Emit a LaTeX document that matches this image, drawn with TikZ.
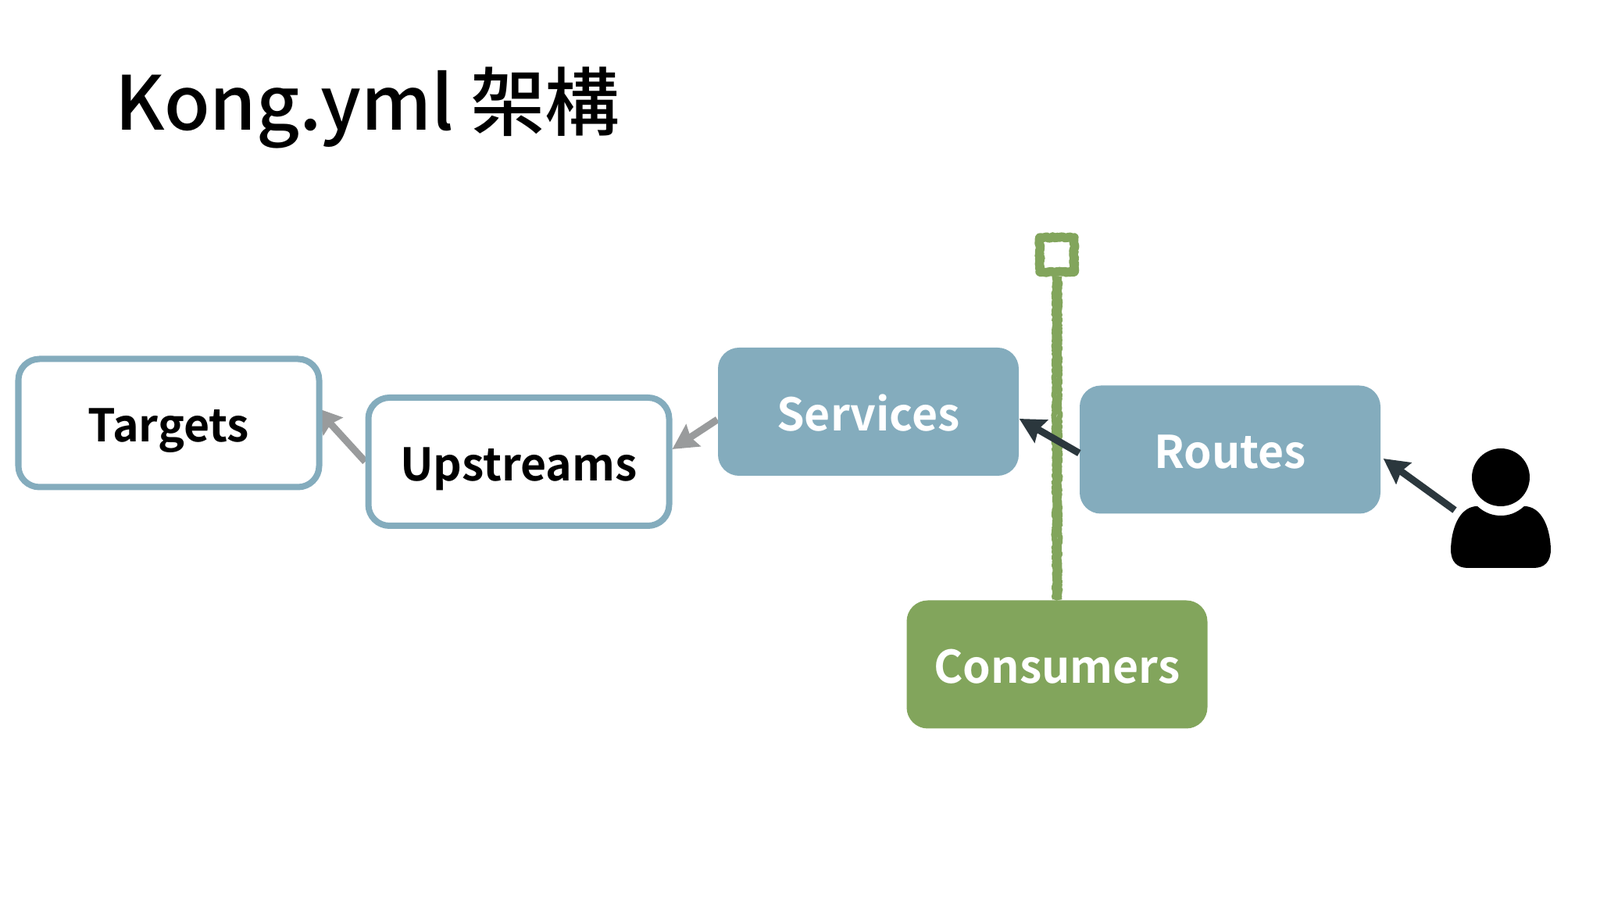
\documentclass[tikz,border=0pt]{standalone}
\usepackage{fontspec}
\setmainfont{Noto Sans CJK TC}[UprightFont=* Medium]
\newfontfamily\boxfont{Noto Sans CJK TC}[UprightFont=* Bold, FakeStretch=.99]
\usetikzlibrary{arrows.meta,decorations.pathmorphing,backgrounds}
\definecolor{boxblue}{HTML}{84ACBD}
\definecolor{boxgreen}{HTML}{82A55C}
\definecolor{arrowdark}{HTML}{2B373D}
\definecolor{arrowgray}{HTML}{999B9C}

\begin{document}
\begin{tikzpicture}
    [ >={Stealth[length=.32cm,width=.33cm,inset=.04cm]},
      title/.style={anchor=base west, inner sep=0, font=\fontsize{27.2pt}{30pt}\selectfont},
      box/.style={minimum width=3.85cm, minimum height=1.64cm, rounded corners=.27cm,
                  inner sep=0, text height=.6cm, text depth=.11cm,
                  font=\fontsize{16.4pt}{20pt}\boxfont},
      solid box/.style={box, fill=#1, text=white},
      open box/.style={box, draw=boxblue, line width=.08cm, fill=white, text=black},
      chalk/.style={draw=boxgreen, line join=round, decorate,
                    decoration={random steps, segment length=.6pt, amplitude=.3pt}},
      link/.style={->, line width=.09cm},
    ]
    \useasboundingbox (0, 0) rectangle (20.48, 11.52);

    \node[title] (heading) at (1.47, 9.85) {Kong.yml 架構};

    \node[open box] (targets) at (2.16, 6.105) {Targets};
    \node[open box] (upstreams) at (6.64, 5.61) {Upstreams};
    \node[solid box=boxblue] (services) at (11.115, 6.25) {Services};
    \node[solid box=boxblue] (routes) at (15.745, 5.765) {Routes};
    \node[solid box=boxgreen] (consumers) at (13.53, 3.015) {Consumers};

    % plugin on the services/routes link
    \node[chalk, line width=.115cm, fill=white, minimum size=.44cm, inner sep=0] (plugin)
        at (13.53, 8.26) {};
    \foreach \side in {-.03, .03} {
        \draw[chalk, line width=.07cm] ([xshift=\side cm]consumers.north)
            -- ([xshift=\side cm]plugin.south);
    }

    % user
    \coordinate (user) at (19.21, 5.41);
    \coordinate (userarm) at (18.62, 4.99);
    \begin{scope}[shift={(user)}]
        \fill (0, 0) circle (.37);
        \fill (-.30, -.37) .. controls (-.20, -.46) and (-.10, -.49) .. (0, -.49)
            .. controls (.10, -.49) and (.20, -.46) .. (.30, -.37)
            .. controls (.50, -.37) and (.63, -.60) .. (.64, -.92)
            .. controls (.64, -1.08) and (.56, -1.16) .. (.42, -1.16)
            -- (-.42, -1.16)
            .. controls (-.56, -1.16) and (-.64, -1.08) .. (-.64, -.92)
            .. controls (-.63, -.60) and (-.50, -.37) .. (-.30, -.37) -- cycle;
    \end{scope}

    \draw[link, arrowdark] (userarm) -- ([xshift=.03cm, yshift=-.115cm]routes.east);
    \draw[link, arrowdark] ([yshift=-.045cm]routes.west) -- ([yshift=-.09cm]services.east);
    \begin{scope}[on background layer]
        \draw[link, arrowgray] ([yshift=-.10cm]services.west)
            -- ([yshift=.16cm]upstreams.east);
        \draw[link, arrowgray] (upstreams.west)
            -- ([xshift=-.08cm, yshift=.195cm]targets.east);
    \end{scope}
\end{tikzpicture}
\end{document}
